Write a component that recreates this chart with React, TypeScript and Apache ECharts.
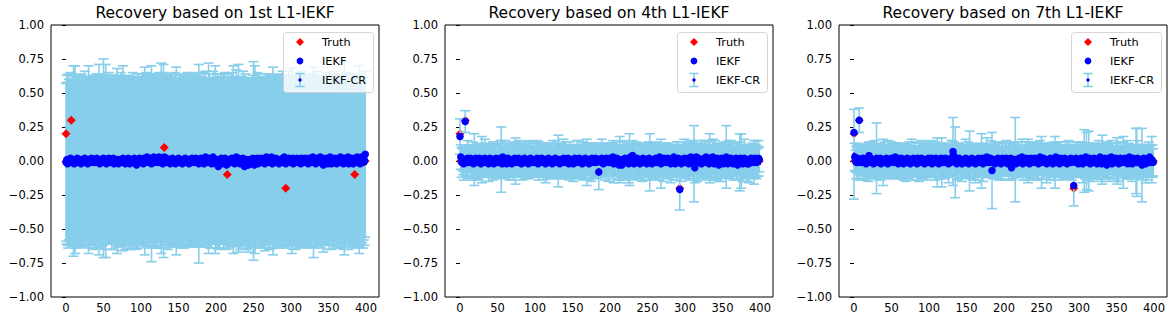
import React, { useEffect, useRef } from "react";
import * as echarts from "echarts";

const N = 400;
const titles = ["Recovery based on 1st L1-IEKF", "Recovery based on 4th L1-IEKF", "Recovery based on 7th L1-IEKF"];
const legendNames = ["Truth", "IEKF", "IEKF-CR"];
const xTicks = [0, 50, 100, 150, 200, 250, 300, 350, 400];

// sparse truth signal (index, value); all other entries are 0
const truthIdx = [0, 7, 131, 215, 293, 385];
const truthVal = [0.2, 0.3, 0.1, -0.1, -0.2, -0.1];

// IEKF estimates, in hundredths
const iekf1 = [
  -1,1,-2,0,1,-1,2,0,-1,1,0,-2,1,0,-1,2,1,-1,0,1,
  -2,0,1,-1,0,2,-1,1,0,-2,1,0,-1,1,2,0,-1,0,1,-1,
  0,2,-1,0,1,-2,0,1,-1,0,2,1,-1,0,-2,1,0,2,-1,0,
  1,-1,0,2,-2,0,1,-1,0,1,-2,0,-1,1,0,-1,2,0,1,-2,
  0,1,-1,2,0,-2,1,0,-1,1,0,2,-1,0,-3,1,0,-1,2,0,
  -1,1,0,-2,2,0,-1,1,3,0,-1,2,0,1,-2,0,1,3,-1,0,
  2,1,-1,0,3,-1,0,2,1,-2,0,3,1,-1,2,0,-1,1,0,-2,
  1,0,2,-1,0,1,-2,0,1,-1,2,0,-1,1,0,-2,1,0,-1,2,
  0,-1,1,0,-2,1,0,-1,2,0,1,-1,0,2,-1,0,1,-2,0,1,
  2,-1,0,1,-2,0,3,1,-1,0,2,-1,0,1,-2,0,3,-1,0,1,
  -2,1,0,-4,1,-1,0,2,-2,1,0,-1,2,0,-3,1,-2,0,1,-1,
  0,2,-1,1,0,-2,1,3,0,-1,2,0,-2,1,-1,0,2,-1,-4,1,
  0,-2,1,-3,0,1,-2,0,-1,2,0,-3,1,-1,0,2,-2,0,1,-1,
  2,0,-1,1,0,-2,1,3,0,-1,2,1,-1,0,3,-2,0,1,-1,0,
  2,-1,0,1,-2,0,1,-1,0,2,-1,3,0,-2,1,0,-1,2,0,1,
  -1,0,2,-2,1,0,-1,1,2,0,-1,1,0,-2,2,0,1,-1,0,2,
  -1,1,0,-2,2,0,1,-1,0,3,-1,0,1,-2,0,2,-1,1,0,3,
  -1,0,2,-3,1,0,-1,2,0,-2,1,-1,3,0,-2,1,0,-1,2,0,
  1,-2,0,2,-1,0,3,-1,1,0,-2,2,0,-1,1,0,3,-2,0,1,
  -1,2,0,-2,1,0,-1,2,3,0,-1,1,-2,0,3,1,-1,2,0,5,
];
const iekf2 = [
  18,3,-1,1,0,-2,1,29,0,-1,2,1,-1,0,2,-1,1,0,-2,1,
  0,2,-1,0,1,-1,2,0,-2,1,0,-1,1,2,0,-1,1,0,-2,1,
  2,0,-1,1,0,-2,1,0,2,-1,0,1,-1,0,2,1,-2,3,0,-1,
  1,0,-2,1,2,0,-1,1,0,-2,1,0,-1,2,0,1,-1,0,2,-1,
  0,1,-2,0,1,-1,2,0,-1,1,0,-2,1,0,2,-1,0,1,-1,0,
  1,-1,0,2,-2,0,1,-1,0,2,1,-1,0,1,-2,0,1,-1,2,0,
  -1,1,0,-2,1,0,-1,2,0,1,-1,0,1,-2,0,1,-1,0,2,-1,
  0,1,-1,0,2,-2,0,1,-1,0,1,-2,0,2,-1,0,1,-1,0,2,
  -1,0,1,-2,0,1,-1,2,0,-1,1,0,-2,1,0,-1,2,0,1,-1,
  0,2,-1,0,1,-8,0,1,-1,2,0,-2,1,0,-1,2,0,1,-1,0,
  2,-1,0,1,3,-2,0,1,-1,2,0,-1,-3,1,-2,0,-3,1,0,-1,
  2,0,-1,1,0,-2,1,3,0,-1,4,0,-2,1,-1,0,2,-1,0,1,
  -2,0,1,-1,2,0,-1,1,0,-2,1,0,2,-1,0,1,-2,0,1,-1,
  0,2,-1,0,1,-1,3,0,-2,1,0,-1,2,0,1,-1,0,2,-1,0,
  1,-2,0,1,-1,3,0,-2,1,0,-1,2,0,-21,0,-2,1,0,-1,2,
  0,-1,1,0,2,-2,0,1,3,-1,0,2,-2,-5,1,3,-1,0,2,-1,
  1,0,-2,1,0,-1,2,0,3,-1,1,0,-2,2,0,-1,1,3,0,-2,
  1,0,-1,2,0,-3,1,0,-1,2,0,-2,1,0,-1,3,0,-2,1,0,
  -1,2,0,1,-2,0,1,-1,2,0,-3,1,0,-1,2,0,1,-2,0,2,
  -1,0,1,-2,0,-2,1,0,2,-1,0,1,-1,2,0,1,-1,0,2,1,
];
const iekf3 = [
  21,3,0,-1,1,2,-1,30,0,1,-1,0,2,-1,0,1,-2,0,1,-1,
  4,0,2,-1,1,0,-2,1,0,-1,2,0,1,-1,0,2,-2,0,1,-1,
  0,1,-1,2,0,-2,1,0,-1,1,2,0,-1,1,0,3,-1,0,2,-2,
  1,0,-1,2,0,1,-2,0,1,-1,0,2,-1,0,1,-2,0,1,-1,2,
  0,-1,1,0,-2,2,0,-1,1,0,2,-1,0,1,-2,0,1,0,-1,2,
  1,-1,0,2,-2,0,1,-1,0,2,1,-1,0,-2,1,0,2,-1,0,1,
  -1,0,2,-1,1,0,-2,1,0,-1,2,3,7,4,0,-1,1,-2,0,1,
  2,-1,0,1,-2,0,1,-1,0,2,-1,0,1,-2,0,1,-1,2,0,-1,
  1,0,-2,1,0,-1,2,0,1,-1,0,2,-2,0,1,-1,0,3,-1,0,
  1,-1,2,0,-7,-1,1,0,-2,1,0,-1,2,0,-1,1,-2,0,2,-1,
  0,1,-1,2,0,-2,1,0,-1,2,-5,0,1,-1,0,1,-2,0,1,-1,
  2,0,-1,1,3,-2,0,1,-1,0,2,-1,0,1,-2,0,2,-1,0,1,
  -1,2,0,-1,1,0,-2,1,3,0,-1,1,0,2,-1,0,1,-2,0,1,
  0,-1,2,0,1,-2,0,1,-1,3,0,-1,1,0,-2,2,0,-1,1,0,
  -1,2,0,1,-2,0,1,-1,0,2,-1,0,1,-18,0,-1,2,0,1,-2,
  0,1,-1,2,0,-2,1,0,-1,3,0,1,-1,0,2,-2,0,1,-1,0,
  2,-1,0,1,-2,0,1,-1,3,0,-2,1,0,-1,2,0,1,-3,0,2,
  -1,0,1,3,-2,0,1,-1,0,2,-1,0,1,-2,0,2,-1,0,1,-1,
  0,2,-1,0,1,-2,0,3,-1,1,0,-2,2,0,-1,1,0,-1,2,0,
  -1,1,0,-2,-3,-1,2,0,1,-2,0,1,-1,2,3,0,-1,1,0,-1,
];

// half-widths of the IEKF-CR bars, in hundredths
const err1 = [
  58,62,60,64,59,61,63,57,60,62,70,61,69,59,63,60,62,58,64,61,
  60,63,59,62,61,64,58,60,62,59,69,61,63,60,58,62,64,59,61,63,
  60,62,58,64,70,61,59,63,60,62,73,60,64,71,59,62,61,63,58,60,
  62,64,59,61,63,60,58,62,68,61,60,63,59,64,62,60,68,61,59,63,
  62,60,64,58,61,63,60,62,59,64,61,60,63,58,62,61,64,60,59,62,
  61,63,60,59,62,69,61,64,60,58,63,62,60,61,72,59,63,60,62,64,
  59,61,63,60,62,58,64,70,61,60,71,62,59,63,61,60,64,58,62,60,
  63,61,59,62,60,64,61,69,60,62,58,63,61,60,64,59,62,61,63,60,
  58,62,64,61,60,63,59,62,61,60,64,58,63,61,62,60,59,73,61,63,
  60,62,58,64,61,60,63,59,62,61,70,60,64,58,62,61,63,60,59,69,
  62,60,64,61,59,63,60,62,58,61,64,60,63,59,62,61,60,64,58,62,
  61,63,60,69,62,59,61,64,60,62,69,58,63,61,60,62,64,59,61,63,
  60,62,59,64,61,60,63,58,62,61,73,60,69,62,59,63,61,64,60,62,
  58,61,63,60,62,64,59,61,60,63,62,58,64,61,60,62,69,59,63,61,
  60,62,64,58,61,63,60,62,59,64,61,60,63,62,58,61,60,64,59,62,
  61,68,60,63,59,62,64,60,61,58,63,62,60,61,64,59,62,60,63,61,
  59,62,64,60,61,63,58,62,60,61,70,63,59,62,60,64,61,58,62,60,
  63,61,60,64,59,62,61,63,58,60,62,64,61,59,63,60,62,61,64,58,
  60,62,63,61,59,64,60,62,58,61,63,71,60,62,64,59,61,63,60,62,
  58,61,63,60,62,64,59,61,60,63,62,69,60,64,58,61,63,60,62,61,
];
const err2 = [
  13,9,11,8,10,12,9,8,11,10,13,9,12,8,10,11,9,14,10,19,
  11,9,12,10,8,13,11,9,10,17,12,10,9,14,11,8,12,10,13,9,
  10,12,8,11,14,9,10,13,11,9,12,10,8,11,13,24,10,12,9,11,
  14,10,8,12,11,9,13,10,12,8,11,14,9,10,17,12,9,11,13,10,
  8,12,10,14,9,11,10,13,8,12,11,9,14,10,12,8,11,13,10,9,
  12,10,11,13,9,14,10,8,12,11,9,13,10,12,14,8,11,10,9,13,
  11,12,8,10,14,9,11,13,10,12,9,19,11,10,13,8,12,9,14,11,
  10,13,9,12,8,11,14,10,9,12,11,13,8,10,12,9,14,11,10,13,
  9,12,10,11,14,8,12,10,13,17,11,9,12,10,8,14,11,13,9,10,
  12,11,9,13,10,13,12,8,11,14,10,9,12,11,13,10,8,12,14,9,
  11,10,13,9,12,14,8,11,10,12,9,13,11,17,10,12,9,14,11,8,
  12,10,13,9,11,14,19,10,12,8,11,13,9,12,10,14,11,9,13,10,
  8,12,11,14,9,10,13,11,12,8,10,14,9,21,11,12,10,13,9,11,
  14,10,8,12,11,13,9,10,18,12,11,14,10,8,12,9,13,11,10,12,
  9,14,11,10,13,8,12,10,11,14,9,12,10,15,11,13,9,12,10,14,
  11,8,12,13,10,9,14,11,12,10,13,9,28,11,10,12,14,9,11,13,
  10,12,8,14,11,9,13,10,12,11,9,14,10,18,12,8,11,13,10,12,
  14,9,11,10,13,12,8,11,14,10,12,9,13,11,10,23,12,9,14,11,
  10,13,8,12,11,14,9,10,12,13,11,10,9,21,12,20,11,13,10,14,
  12,9,11,13,10,14,11,12,8,10,13,11,16,9,12,14,10,11,13,9,
];
const err3 = [
  33,10,8,12,9,11,13,9,10,8,12,11,9,13,10,8,12,11,9,14,
  10,12,8,11,13,9,10,14,11,12,26,9,10,13,8,11,12,10,9,17,
  11,13,9,10,12,8,14,11,10,9,12,13,8,11,12,10,9,13,11,10,
  8,12,11,9,13,10,12,8,11,14,9,10,12,11,13,8,10,15,9,12,
  11,10,13,9,12,8,11,14,10,9,13,12,8,11,10,12,9,14,11,10,
  12,9,11,13,10,8,12,11,14,9,10,18,12,11,9,13,10,18,11,12,
  9,13,10,11,8,12,14,10,11,9,13,12,25,10,11,26,9,12,13,10,
  11,8,12,10,13,9,11,12,10,14,8,11,13,9,22,10,12,11,9,13,
  10,12,14,9,11,13,10,8,12,11,20,9,13,10,12,11,9,14,10,12,
  11,9,13,10,28,12,11,9,10,13,8,12,11,14,10,9,12,13,11,10,
  9,12,10,13,11,8,12,14,10,11,9,13,12,10,11,31,9,12,13,10,
  12,10,11,9,13,12,8,11,10,14,12,9,16,11,10,13,12,9,11,10,
  13,11,9,12,10,14,11,8,12,10,19,11,13,9,12,10,11,14,9,12,
  10,13,11,9,12,10,14,11,19,10,12,9,13,11,10,12,9,13,11,10,
  12,9,11,13,10,12,14,9,11,10,13,12,11,15,10,9,12,11,13,10,
  11,13,9,12,10,14,11,23,12,10,21,9,13,22,11,10,12,9,14,11,
  10,12,13,9,11,10,14,12,9,11,13,18,10,12,11,9,13,10,12,11,
  14,10,9,12,11,13,10,12,9,11,14,17,10,13,11,12,9,10,13,19,
  11,9,12,10,14,11,13,9,12,10,11,13,9,12,10,11,24,25,13,10,
  12,9,11,10,27,13,10,12,9,14,11,10,13,12,9,11,10,17,12,10,
];

// IEKF-CR centres that differ from the IEKF estimate: [index, hundredths]
const crOverride1: number[][] = [];
const crOverride2: number[][] = [];
const crOverride3: number[][] = [[0, 5]];

const RED = "#ff0000";
const BLUE = "#0000ff";
const SKY = "#87ceeb";
const FONT = "DejaVu Sans";

const gridLefts = [51, 445, 839];
const GRID_TOP = 25;
const GRID_W = 328;
const GRID_H = 272;

const panels = [
  { iekf: iekf1, err: err1, cr: crOverride1, barsBelowTruth: true },
  { iekf: iekf2, err: err2, cr: crOverride2, barsBelowTruth: false },
  { iekf: iekf3, err: err3, cr: crOverride3, barsBelowTruth: false },
];

function buildOption() {
  const truth = new Array(N).fill(0);
  truthIdx.forEach((k, j) => (truth[k] = truthVal[j]));

  const grid: any[] = [];
  const xAxis: any[] = [];
  const yAxis: any[] = [];
  const series: any[] = [];
  const graphic: any[] = [];

  panels.forEach((p, i) => {
    const left = gridLefts[i];
    grid.push({
      left, top: GRID_TOP, width: GRID_W, height: GRID_H,
      show: true, borderColor: "#000", borderWidth: 1, backgroundColor: "transparent",
    });
    xAxis.push({
      type: "value", gridIndex: i, min: -20, max: 417.3,
      axisLine: { show: false },
      splitLine: { show: false },
      axisTick: { show: true, length: 4, customValues: xTicks, lineStyle: { color: "#000", width: 1 } },
      axisLabel: { customValues: xTicks, margin: 5, color: "#000", fontFamily: FONT, fontSize: 11.5 },
    });
    yAxis.push({
      type: "value", gridIndex: i, min: -1, max: 1, interval: 0.25,
      axisLine: { show: false },
      splitLine: { show: false },
      axisTick: { show: true, length: 4, lineStyle: { color: "#000", width: 1 } },
      axisLabel: {
        margin: 7, color: "#000", fontFamily: FONT, fontSize: 11.5,
        formatter: (v: number) => (v < 0 ? "\u2212" + (-v).toFixed(2) : v.toFixed(2)),
      },
    });

    const cr = p.iekf.map((v) => v / 100);
    p.cr.forEach(([k, v]) => (cr[k] = v / 100));

    const zBars = p.barsBelowTruth ? 1 : 2;
    const zTruth = p.barsBelowTruth ? 2 : 1;

    series.push({
      type: "scatter", name: "Truth", xAxisIndex: i, yAxisIndex: i, z: zTruth, silent: true,
      symbol: "diamond", symbolSize: 9, itemStyle: { color: RED, opacity: 1 },
      data: truth.map((v, k) => [k, v]),
    });
    series.push({
      type: "custom", name: "IEKF-CR", xAxisIndex: i, yAxisIndex: i, z: zBars, silent: true,
      data: cr.map((c, k) => [k, c, p.err[k] / 100]),
      renderItem: (params: any, api: any) => {
        const x = api.value(0), c = api.value(1), e = api.value(2);
        const t = api.coord([x, c + e]);
        const b = api.coord([x, c - e]);
        const st = { stroke: SKY, lineWidth: 1.6 };
        return {
          type: "group",
          children: [
            { type: "line", shape: { x1: t[0], y1: t[1], x2: b[0], y2: b[1] }, style: st },
            { type: "line", shape: { x1: t[0] - 5, y1: t[1], x2: t[0] + 5, y2: t[1] }, style: st },
            { type: "line", shape: { x1: b[0] - 5, y1: b[1], x2: b[0] + 5, y2: b[1] }, style: st },
          ],
        };
      },
    });
    series.push({
      type: "scatter", name: "IEKF", xAxisIndex: i, yAxisIndex: i, z: 3, silent: true,
      symbol: "circle", symbolSize: 7.5, itemStyle: { color: BLUE, opacity: 1 },
      data: p.iekf.map((v, k) => [k, v / 100]),
    });
    series.push({
      type: "scatter", name: "IEKF-CR-pt", xAxisIndex: i, yAxisIndex: i, z: 4, silent: true,
      symbol: "circle", symbolSize: 3.5, itemStyle: { color: BLUE, opacity: 1 },
      data: cr.map((v, k) => [k, v]),
    });

    // title
    graphic.push({
      type: "text", x: left + GRID_W / 2, y: 13, z: 100, silent: true,
      style: { text: titles[i], fill: "#000", fontFamily: FONT, fontSize: 15.5, align: "center", verticalAlign: "middle" },
    });

    // legend (each element on top of the series)
    const right = left + GRID_W;
    const lx = right - 96;
    const mx = right - 79;
    const tx = right - 57;
    const rows = [42, 61, 80];
    const Z = 100;
    graphic.push(
      { type: "rect", z: Z, silent: true, shape: { x: lx + 0.5, y: 32.5, width: 90, height: 60, r: 3 },
        style: { fill: "rgba(255,255,255,0.8)", stroke: "rgba(204,204,204,0.8)", lineWidth: 1 } },
      { type: "polygon", z: Z + 1, silent: true,
        shape: { points: [[mx, rows[0] - 4], [mx + 4, rows[0]], [mx, rows[0] + 4], [mx - 4, rows[0]]] },
        style: { fill: RED } },
      { type: "circle", z: Z + 1, silent: true, shape: { cx: mx, cy: rows[1], r: 3.4 }, style: { fill: BLUE } },
      { type: "line", z: Z + 1, silent: true, shape: { x1: mx, y1: rows[2] - 6.5, x2: mx, y2: rows[2] + 6.5 },
        style: { stroke: SKY, lineWidth: 1.6 } },
      { type: "line", z: Z + 1, silent: true, shape: { x1: mx - 4.7, y1: rows[2] - 6.5, x2: mx + 4.7, y2: rows[2] - 6.5 },
        style: { stroke: SKY, lineWidth: 1.6 } },
      { type: "line", z: Z + 1, silent: true, shape: { x1: mx - 4.7, y1: rows[2] + 6.5, x2: mx + 4.7, y2: rows[2] + 6.5 },
        style: { stroke: SKY, lineWidth: 1.6 } },
      { type: "circle", z: Z + 2, silent: true, shape: { cx: mx, cy: rows[2], r: 1.7 }, style: { fill: BLUE } },
      ...legendNames.map((name, j) => ({
        type: "text", z: Z + 1, silent: true, x: tx, y: rows[j],
        style: { text: name, fill: "#000", fontFamily: FONT, fontSize: 11.3, align: "left", verticalAlign: "middle" },
      })),
    );
  });

  return { animation: false, backgroundColor: "#fff", grid, xAxis, yAxis, series, graphic };
}

export default function App() {
  const ref = useRef<HTMLDivElement>(null);
  useEffect(() => {
    if (!ref.current) return;
    const chart = echarts.init(ref.current, undefined, { renderer: "svg" });
    chart.setOption(buildOption() as any);
    return () => chart.dispose();
  }, []);
  return (
    <div
      ref={ref}
      style={{ position: "absolute", left: 0, top: 0, width: 1174, height: 324, background: "#fff" }}
    />
  );
}
